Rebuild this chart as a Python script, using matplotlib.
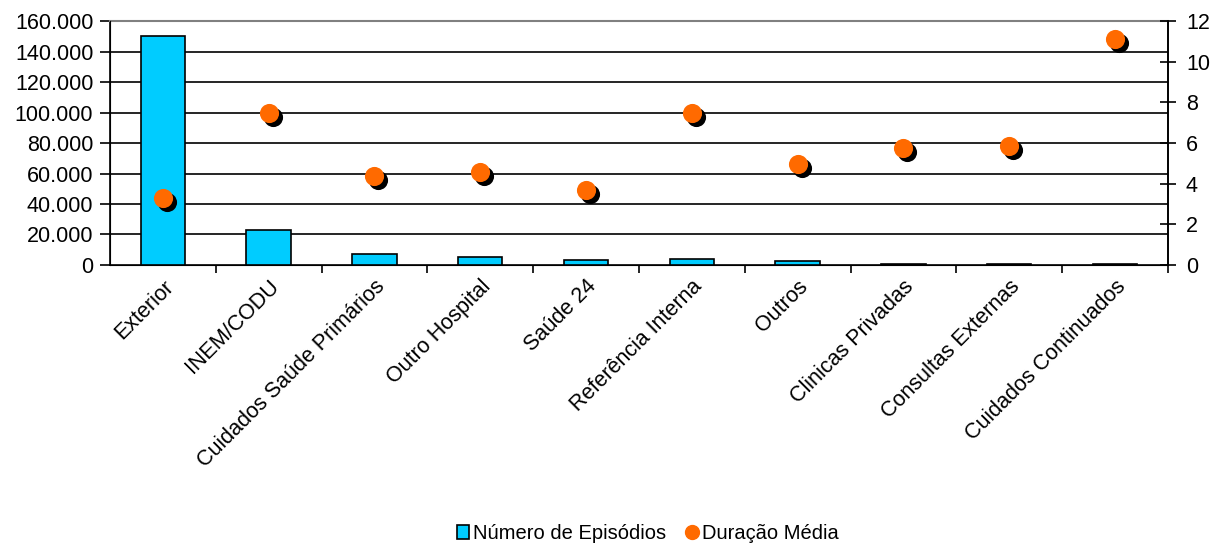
import numpy as np
import matplotlib
matplotlib.use('Agg')
from matplotlib import pyplot as plt
from matplotlib import transforms
from matplotlib.ticker import FuncFormatter
from matplotlib.lines import Line2D
from matplotlib.patches import Patch

plt.rcParams['font.family'] = ['Liberation Sans', 'DejaVu Sans']

categorias = ['Exterior', 'INEM/CODU', 'Cuidados Saúde Primários', 'Outro Hospital',
              'Saúde 24', 'Referência Interna', 'Outros', 'Clinicas Privadas',
              'Consultas Externas', 'Cuidados Continuados']
episodios = [150500, 23000, 7500, 5000, 3500, 3600, 2400, 800, 800, 600]
duracao = [3.3, 7.5, 4.4, 4.6, 3.7, 7.5, 4.95, 5.75, 5.85, 11.1]
yticks_esq = [0, 20000, 40000, 60000, 80000, 100000, 120000, 140000, 160000]
yticks_dir = [0, 2, 4, 6, 8, 10, 12]

cor_barra = '#00CCFF'
cor_ponto = '#FF6A00'

fig = plt.figure(figsize=(12.18, 5.44), dpi=100)
ax1 = fig.add_axes([0.0903, 0.513, 0.8686, 0.448])
x = np.arange(len(categorias))

ax1.bar(x, episodios, width=0.42, color=cor_barra, edgecolor='black', linewidth=1.2, zorder=3)
for v in yticks_esq[1:-1]:
    ax1.axhline(v, color='black', linewidth=1.2, zorder=1)
ax1.set_ylim(0, 160000)
ax1.set_xlim(-0.5, len(categorias) - 0.5)
ax1.set_yticks(yticks_esq)
ax1.yaxis.set_major_formatter(FuncFormatter(lambda v, p: f'{int(v):,}'.replace(',', '.')))
ax1.tick_params(axis='y', direction='out', length=7, width=1.2, labelsize=15.5, pad=5)
ax1.set_xticks(x + 0.5)
ax1.set_xticklabels([])
ax1.tick_params(axis='x', which='major', direction='out', length=6, width=1.2)
ax1.set_xticks(x, minor=True)
ax1.set_xticklabels(categorias, minor=True, rotation=45, ha='right', rotation_mode='anchor', fontsize=15.5)
ax1.tick_params(axis='x', which='minor', length=0, pad=8)

for s in ['left', 'bottom', 'right']:
    ax1.spines[s].set_linewidth(1.2)
ax1.spines['top'].set_color('#808080')
ax1.spines['top'].set_linewidth(1.5)

ax2 = ax1.twinx()
ax2.set_ylim(0, 12)
ax2.set_yticks(yticks_dir)
ax2.tick_params(axis='y', direction='inout', length=12, width=1.2, labelsize=15.5, pad=7)
ax2.spines['right'].set_linewidth(1.2)
ax2.spines['top'].set_visible(False)
sombra = transforms.offset_copy(ax2.transData, fig=fig, x=4, y=-4, units='dots')
ax2.scatter(x, duracao, s=190, color='black', transform=sombra, zorder=4, linewidths=0)
ax2.scatter(x, duracao, s=190, color=cor_ponto, zorder=5, linewidths=0)

handles = [Patch(facecolor=cor_barra, edgecolor='black', linewidth=1.2),
           Line2D([], [], marker='o', linestyle='', color=cor_ponto, markersize=10)]
fig.legend(handles, ['Número de Episódios', 'Duração Média'], loc='center',
           bbox_to_anchor=(0.532, 0.02), ncol=2, frameon=False, fontsize=14.5,
           handlelength=0.6, handletextpad=0.2, columnspacing=1.0)

fig.savefig('out.png', dpi=100)
